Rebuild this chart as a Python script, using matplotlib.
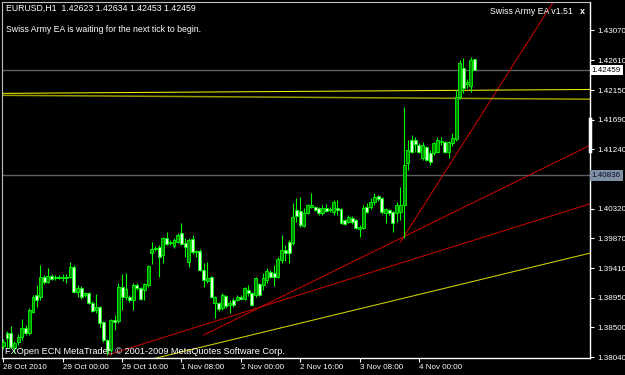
import matplotlib
matplotlib.use("Agg")
import matplotlib.pyplot as plt
import numpy as np

plt.rcParams["font.family"] = ["Liberation Sans", "DejaVu Sans"]

# EURUSD H1 bars, bar 0 = 28 Oct 2010 08:00
opens = [1.3821, 1.3841, 1.3841, 1.3818, 1.3827, 1.3835, 1.3849, 1.3841, 1.3873, 1.3900,
         1.3896, 1.3927, 1.3920, 1.3929, 1.3926, 1.3927, 1.3926, 1.3927, 1.3927, 1.3943,
         1.3904, 1.3910, 1.3900, 1.3903, 1.3887, 1.3876, 1.3881, 1.3858, 1.3830, 1.3815,
         1.3861, 1.3859, 1.3912, 1.3896, 1.3896, 1.3892, 1.3915, 1.3910, 1.3907, 1.3915,
         1.3964, 1.3970, 1.3973, 1.3961, 1.3987, 1.3980, 1.3975, 1.3981, 1.3995, 1.3980,
         1.3950, 1.3986, 1.3966, 1.3967, 1.3938, 1.3921, 1.3927, 1.3887, 1.3887, 1.3879,
         1.3898, 1.3884, 1.3892, 1.3892, 1.3896, 1.3893, 1.3907, 1.3903, 1.3900, 1.3916,
         1.3915, 1.3923, 1.3935, 1.3933, 1.3927, 1.3953, 1.3969, 1.3981, 1.3980, 1.4030,
         1.4029, 1.4006, 1.4026, 1.4035, 1.4035, 1.4033, 1.4026, 1.4033, 1.4030, 1.4027,
         1.4033, 1.4032, 1.4015, 1.4012, 1.4018, 1.4015, 1.4001, 1.4003, 1.4035, 1.4035,
         1.4043, 1.4052, 1.4049, 1.4026, 1.4030, 1.4027, 1.4026, 1.4027, 1.4038, 1.4103,
         1.4138, 1.4138, 1.4131, 1.4111, 1.4127, 1.4118, 1.4118, 1.4120, 1.4135, 1.4135,
         1.4120, 1.4134, 1.4140, 1.4205, 1.4249, 1.4225, 1.4222, 1.42623]
highs = [1.3832, 1.3844, 1.3852, 1.3829, 1.3840, 1.3863, 1.3853, 1.3879, 1.3900, 1.3915,
         1.3946, 1.3930, 1.3941, 1.3932, 1.3930, 1.3930, 1.3932, 1.3932, 1.3950, 1.3946,
         1.3915, 1.3913, 1.3904, 1.3904, 1.3890, 1.3901, 1.3883, 1.3859, 1.3832, 1.3863,
         1.3869, 1.3918, 1.3932, 1.3933, 1.3900, 1.3918, 1.3918, 1.3912, 1.3918, 1.3946,
         1.3981, 1.3975, 1.3977, 1.3989, 1.3997, 1.3984, 1.3987, 1.3995, 1.4010, 1.3987,
         1.3987, 1.3992, 1.3969, 1.3970, 1.3949, 1.3950, 1.3929, 1.3898, 1.3889, 1.3903,
         1.3900, 1.3892, 1.3895, 1.3900, 1.3900, 1.3912, 1.3915, 1.3904, 1.3927, 1.3918,
         1.3933, 1.3941, 1.3938, 1.3946, 1.3958, 1.3992, 1.3977, 1.3984, 1.4041, 1.4049,
         1.4050, 1.4033, 1.4040, 1.4057, 1.4037, 1.4035, 1.4038, 1.4040, 1.4035, 1.4046,
         1.4046, 1.4033, 1.4017, 1.4023, 1.4021, 1.4017, 1.4007, 1.4038, 1.4041, 1.4049,
         1.4057, 1.4054, 1.4051, 1.4033, 1.4032, 1.4029, 1.4043, 1.4066, 1.4189, 1.4138,
         1.4146, 1.4143, 1.4134, 1.4135, 1.4129, 1.4123, 1.4135, 1.4143, 1.4143, 1.4137,
         1.4137, 1.4149, 1.4215, 1.4262, 1.4265, 1.4232, 1.4266, 1.42634]
lows = [1.3817, 1.3818, 1.3818, 1.3810, 1.3823, 1.3830, 1.3838, 1.3838, 1.3872, 1.3881,
        1.3892, 1.3916, 1.3918, 1.3923, 1.3923, 1.3924, 1.3921, 1.3918, 1.3926, 1.3903,
        1.3896, 1.3893, 1.3896, 1.3886, 1.3873, 1.3872, 1.3850, 1.3827, 1.3807, 1.3812,
        1.3846, 1.3856, 1.3876, 1.3892, 1.3889, 1.3876, 1.3907, 1.3892, 1.3892, 1.3912,
        1.3947, 1.3967, 1.3927, 1.3949, 1.3977, 1.3977, 1.3972, 1.3980, 1.3977, 1.3958,
        1.3943, 1.3963, 1.3958, 1.3937, 1.3912, 1.3918, 1.3895, 1.3864, 1.3875, 1.3876,
        1.3879, 1.3872, 1.3881, 1.3890, 1.3892, 1.3892, 1.3898, 1.3883, 1.3896, 1.3898,
        1.3907, 1.3918, 1.3926, 1.3913, 1.3926, 1.3949, 1.3952, 1.3949, 1.3977, 1.4012,
        1.4004, 1.4004, 1.4024, 1.4033, 1.4029, 1.4023, 1.4023, 1.4027, 1.4027, 1.4023,
        1.4023, 1.4009, 1.4007, 1.4010, 1.4009, 1.4001, 1.3989, 1.4001, 1.4026, 1.4032,
        1.4038, 1.4044, 1.4024, 1.4010, 1.4023, 1.3997, 1.4012, 1.4015, 1.3987, 1.4092,
        1.4118, 1.4120, 1.4118, 1.4108, 1.4106, 1.4100, 1.4115, 1.4118, 1.4131, 1.4118,
        1.4111, 1.4129, 1.4137, 1.4202, 1.4211, 1.4218, 1.4212, 1.42453]
closes = [1.3827, 1.3833, 1.3820, 1.3826, 1.3835, 1.3849, 1.3841, 1.3876, 1.3896, 1.3892,
          1.3927, 1.3920, 1.3929, 1.3924, 1.3927, 1.3926, 1.3927, 1.3926, 1.3943, 1.3904,
          1.3910, 1.3896, 1.3903, 1.3887, 1.3875, 1.3881, 1.3856, 1.3830, 1.3815, 1.3861,
          1.3858, 1.3912, 1.3896, 1.3909, 1.3892, 1.3915, 1.3910, 1.3893, 1.3916, 1.3944,
          1.3970, 1.3972, 1.3958, 1.3987, 1.3978, 1.3981, 1.3984, 1.3992, 1.3978, 1.3973,
          1.3984, 1.3966, 1.3967, 1.3938, 1.3923, 1.3926, 1.3896, 1.3896, 1.3878, 1.3900,
          1.3883, 1.3887, 1.3884, 1.3896, 1.3893, 1.3910, 1.3903, 1.3884, 1.3926, 1.3900,
          1.3926, 1.3937, 1.3927, 1.3927, 1.3955, 1.3969, 1.3964, 1.3964, 1.4020, 1.4021,
          1.4007, 1.4026, 1.4038, 1.4038, 1.4030, 1.4026, 1.4033, 1.4029, 1.4032, 1.4043,
          1.4030, 1.4010, 1.4009, 1.4020, 1.4012, 1.4003, 1.4004, 1.4033, 1.4027, 1.4043,
          1.4051, 1.4048, 1.4027, 1.4032, 1.4026, 1.4010, 1.4038, 1.4038, 1.4100, 1.4123,
          1.4120, 1.4132, 1.4120, 1.4131, 1.4108, 1.4105, 1.4134, 1.4138, 1.4137, 1.4120,
          1.4135, 1.4141, 1.4205, 1.4257, 1.4218, 1.4228, 1.4262, 1.42459]

tick_bars = [0, 16, 32, 48, 64, 80, 96, 112]
tick_labels = ["28 Oct 2010", "29 Oct 00:00", "29 Oct 16:00", "1 Nov 08:00",
               "2 Nov 00:00", "2 Nov 16:00", "3 Nov 08:00", "4 Nov 00:00"]
price_ticks = [1.43070, 1.42610, 1.42150, 1.41690, 1.41240, 1.40790,
               1.40320, 1.39870, 1.39410, 1.38950, 1.38500, 1.38040]

# trendlines (bar, price) anchor pairs, drawn as rays to the right
red_rays = [((28, 1.3807), (158.1, 1.4040)),
            ((54, 1.3838), (158.1, 1.4130)),
            ((107, 1.3981), (148, 1.4349))]
yellow_rays = [((38, 1.3798), (158.1, 1.3964))]
bright_level = ((-0.35, 1.4210), (158.1, 1.4216))
olive_level = ((-0.35, 1.4207), (158.1, 1.4201))
grey_levels = [1.42459, 1.40836]
scroll_marker = (1.4122, 1.4171)

W, H = 625, 375
fig = plt.figure(figsize=(W / 100, H / 100), dpi=100, facecolor="black")
ax = fig.add_axes([2 / W, 17 / H, 588 / W, 356 / H])
ax.set_facecolor("black")
x_min, x_max = -0.35, 158.1
ax.set_xlim(x_min, x_max)
ax.set_ylim(1.38025, 1.43507)

LIME = "#00ff00"
FS = 5.8
idx = np.arange(len(closes))
o = np.array(opens)
c = np.array(closes)

# horizontal levels
for lvl in grey_levels:
    ax.axhline(lvl, color="#5c6066", lw=1.0, zorder=1)

def ray(p0, p1, color, lw=0.75):
    (x0, y0), (x1, y1) = p0, p1
    k = (y1 - y0) / (x1 - x0)
    xe = x_max + 5
    ax.plot([x0, xe], [y0, y0 + k * (xe - x0)], color=color, lw=lw, zorder=2)

for p0, p1 in red_rays:
    ray(p0, p1, "#c40000")
for p0, p1 in yellow_rays:
    ray(p0, p1, "#d4d400")
ray(*bright_level, "#f0f000")
ray(*olive_level, "#9a9a00", lw=1.1)

# candles
ax.vlines(idx, lows, highs, color=LIME, lw=0.8, zorder=3)
body_lo = np.minimum(o, c)
body_h = np.maximum(np.abs(c - o), 0.00004)
face = ["#008c00" if cc > oo else "#d8ffd8" for oo, cc in zip(o, c)]
ax.bar(idx, body_h, bottom=body_lo, width=0.8, color=face,
       edgecolor=LIME, linewidth=0.6, zorder=4)

# axes styling
for side in ["top", "left"]:
    ax.spines[side].set_color("#c0c0c0")
    ax.spines[side].set_linewidth(0.8)
for side in ["right", "bottom"]:
    ax.spines[side].set_color("white")
    ax.spines[side].set_linewidth(1.0)

ax.yaxis.tick_right()
ax.set_yticks(price_ticks)
# the 1.40790 label sits under the level box, as on the terminal
ax.set_yticklabels(["" if abs(p - grey_levels[1]) < 0.0008 else f"{p:.5f}"
                    for p in price_ticks])
ax.tick_params(axis="y", colors="white", length=3, width=0.8, pad=2, labelsize=FS)
ax.set_xticks(tick_bars)
ax.set_xticklabels(tick_labels)
ax.tick_params(axis="x", colors="white", length=3, width=0.8, pad=1, labelsize=FS)
for lbl in ax.get_xticklabels():
    lbl.set_ha("left")

ytr = ax.get_yaxis_transform()
ax.text(1.003, grey_levels[0], f"{grey_levels[0]:.5f}", transform=ytr, ha="left",
        va="center", color="black", fontsize=FS, zorder=10, clip_on=False,
        bbox=dict(boxstyle="square,pad=0.2", fc="white", ec="none"))
ax.text(1.003, grey_levels[1], f"{grey_levels[1]:.5f}", transform=ytr, ha="left",
        va="center", color="#0a0a30", fontsize=FS, zorder=10, clip_on=False,
        bbox=dict(boxstyle="square,pad=0.2", fc="#8090a2", ec="none"))
ax.plot([1, 1], scroll_marker, transform=ytr, color="white", lw=2.5,
        clip_on=False, zorder=9)

# chart texts
TS = 6.3
hdr = f"EURUSD,H1  {opens[-1]:.5f} {highs[-1]:.5f} {lows[-1]:.5f} {closes[-1]:.5f}"
fig.text(6 / W, 1 - 8 / H, hdr, color="white", fontsize=TS, va="center")
fig.text(6 / W, 1 - 29 / H, "Swiss Army EA is waiting for the next tick to begin.",
         color="white", fontsize=TS, va="center")
fig.text(573 / W, 1 - 11 / H, "Swiss Army EA v1.51", color="white", fontsize=TS,
         va="center", ha="right")
fig.text(582 / W, 1 - 11 / H, "x", color="white", fontsize=6.5, va="center",
         ha="center", fontweight="bold")
fig.text(5 / W, 1 - 352 / H, "FXOpen ECN MetaTrader, \u00a9 2001-2009 MetaQuotes Software Corp.",
         color="white", fontsize=6.6, va="center")

fig.savefig("out.png", dpi=100, facecolor="black")
